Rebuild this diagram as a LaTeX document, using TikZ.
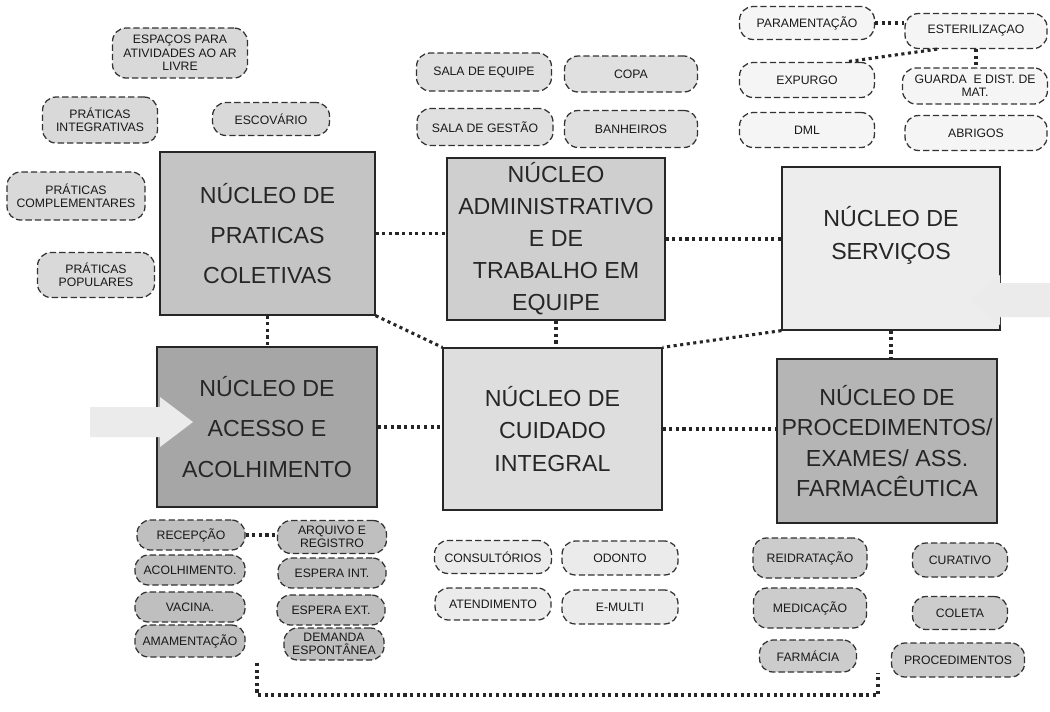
\documentclass[tikz,border=0pt]{standalone}
\usepackage{fontspec}
\setmainfont{Liberation Sans}
\newcommand{\pxu}{0.025cm}
\colorlet{fColet}{black!23}
\colorlet{fAdmin}{black!19}
\colorlet{fServ}{black!7}
\colorlet{fAcesso}{black!35}
\colorlet{fCuid}{black!13}
\colorlet{fProc}{black!29}

\begin{document}
\begin{tikzpicture}[x=0.025cm,y=-0.025cm,
    nucleo/.style 2 args={draw=black!85,line width=0.9pt,align=center,inner sep=2pt,
      text=black!85,minimum width=#1*\pxu,minimum height=#2*\pxu,
      font=\fontsize{16.5}{23}\selectfont},
    pill/.style 2 args={draw=black!80,line width=0.9pt,dash pattern=on 4.5pt off 2.2pt,
      rounded corners=0.34cm,align=center,inner sep=1pt,text=black!90,
      minimum width=#1*\pxu,minimum height=#2*\pxu,
      font=\fontsize{8.7}{9.5}\selectfont},
    link/.style={line width=2.2pt,dash pattern=on 2.2pt off 2.5pt,black!85},
    seta/.style={fill=black!8,draw=none}]
  \useasboundingbox (0,0) rectangle (1050,711);

  % nucleos
  \node[nucleo={215}{163},fill=fColet,font=\fontsize{16.5}{28.5}\selectfont]
    (colet) at (267.5,233.5) {NÚCLEO DE\\PRATICAS\\COLETIVAS};
  \node[nucleo={218}{162},fill=fAdmin,font=\fontsize{16.5}{22.8}\selectfont]
    (admin) at (556,239) {NÚCLEO\\ADMINISTRATIVO\\E DE\\TRABALHO EM\\EQUIPE};
  \node[nucleo={218}{163},fill=fServ,text depth=22pt]
    (serv) at (891,248.5) {NÚCLEO DE\\SERVIÇOS};
  \node[nucleo={220}{160},fill=fAcesso,font=\fontsize{16.5}{28.5}\selectfont]
    (acesso) at (267,427) {NÚCLEO DE\\ACESSO E\\ACOLHIMENTO};
  \node[nucleo={219}{162},fill=fCuid]
    (cuid) at (552.5,429) {NÚCLEO DE\\CUIDADO\\INTEGRAL};
  \node[nucleo={220}{164},fill=fProc,font=\fontsize{16.5}{21.5}\selectfont]
    (proc) at (887,441) {NÚCLEO DE\\PROCEDIMENTOS/\\EXAMES/ ASS.\\FARMACÊUTICA};

  % setas de entrada
  \fill[seta] (90,407) -- (160,407) -- (160,397) -- (193,422) -- (160,447)
    -- (160,437) -- (90,437) -- cycle;
  \fill[seta] (1050,283) -- (1000,283) -- (1000,275) -- (970,300) -- (1000,325)
    -- (1000,317) -- (1050,317) -- cycle;

  % ligacoes entre nucleos
  \draw[link] (colet.east) -- (colet.east -| admin.west);
  \draw[link] (admin.east) -- (admin.east -| serv.west);
  \draw[link] (colet.south) -- (colet.south |- acesso.north);
  \draw[link] (admin.south) -- (admin.south |- cuid.north);
  \draw[link] (serv.south) -- (serv.south |- proc.north);
  \draw[link] (acesso.east) -- (acesso.east -| cuid.west);
  \draw[link] (cuid.east) -- (cuid.east -| proc.west);
  \draw[link] (colet.south east) -- (cuid.north west);
  \draw[link] (serv.south west) -- (cuid.north east);

  % praticas coletivas
  \node[pill={135}{50},fill=black!15] (arlivre) at (180,53)
    {ESPAÇOS PARA\\ATIVIDADES AO AR\\LIVRE};
  \node[pill={115}{46},fill=black!15] (integr) at (100,120) {PRÁTICAS\\INTEGRATIVAS};
  \node[pill={117}{33},fill=black!15] (escov) at (271,119) {ESCOVÁRIO};
  \node[pill={138}{48},fill=black!15] (compl) at (76,196) {PRÁTICAS\\COMPLEMENTARES};
  \node[pill={117}{45},fill=black!15] (popul) at (96,275) {PRÁTICAS\\POPULARES};

  % administrativo
  \node[pill={135}{38},fill=black!12] (sequipe) at (484,72) {SALA DE EQUIPE};
  \node[pill={133}{36},fill=black!12] (copa) at (631,74) {COPA};
  \node[pill={136}{37},fill=black!12] (sgestao) at (485,127) {SALA DE GESTÃO};
  \node[pill={133}{37},fill=black!12] (banh) at (631,129) {BANHEIROS};

  % servicos
  \node[pill={135}{33},fill=black!4] (param) at (807,23) {PARAMENTAÇÃO};
  \node[pill={142}{35},fill=black!4] (ester) at (976,31) {ESTERILIZAÇAO};
  \node[pill={135}{35},fill=black!4] (expurgo) at (807,80) {EXPURGO};
  \node[pill={145}{36},fill=black!4] (guarda) at (975,86) {GUARDA\ \ E DIST. DE\\MAT.};
  \node[pill={135}{35},fill=black!4] (dml) at (807,130) {DML};
  \node[pill={142}{35},fill=black!4] (abrigos) at (976,133) {ABRIGOS};
  \draw[link] (param.east) -- (param.east -| ester.west);
  \draw[link] (ester.205) -- (expurgo.25);
  \draw[link] (ester.south) -- (ester.south |- guarda.north);

  % acesso e acolhimento
  \node[pill={108}{30},fill=black!25] (recep) at (191,535) {RECEPÇÃO};
  \node[pill={110}{30},fill=black!25] (acolh) at (190,570) {ACOLHIMENTO.};
  \node[pill={110}{30},fill=black!25] (vacina) at (190,607) {VACINA.};
  \node[pill={110}{32},fill=black!25] (amam) at (190,641) {AMAMENTAÇÃO};
  \node[pill={109}{33},fill=black!25] (arquivo) at (332,537) {ARQUIVO E\\REGISTRO};
  \node[pill={108}{30},fill=black!25] (espint) at (332,573) {ESPERA INT.};
  \node[pill={108}{30},fill=black!25] (espext) at (331,610) {ESPERA EXT.};
  \node[pill={100}{32},fill=black!25] (demanda) at (334,644) {DEMANDA\\ESPONTÂNEA};
  \draw[link] (recep.east) -- (recep.east -| arquivo.west);

  % cuidado integral
  \node[pill={117}{33},fill=black!8] (consult) at (493,557) {CONSULTÓRIOS};
  \node[pill={116}{34},fill=black!8] (odonto) at (620,558) {ODONTO};
  \node[pill={116}{32},fill=black!8] (atend) at (493,604) {ATENDIMENTO};
  \node[pill={116}{34},fill=black!8] (emulti) at (620,607) {E-MULTI};

  % procedimentos
  \node[pill={114}{40},fill=black!20] (reidr) at (810,558) {REIDRATAÇÃO};
  \node[pill={95}{34},fill=black!20] (curat) at (960,560) {CURATIVO};
  \node[pill={113}{40},fill=black!20] (medic) at (810,608) {MEDICAÇÃO};
  \node[pill={95}{33},fill=black!20] (coleta) at (960,613) {COLETA};
  \node[pill={97}{32},fill=black!20] (farm) at (808,656) {FARMÁCIA};
  \node[pill={133}{34},fill=black!20] (proced) at (958,660) {PROCEDIMENTOS};

  % ligacao inferior
  \coordinate (grpA) at (257,663);
  \coordinate (grpB) at (878,673);
  \draw[link] (grpA) -- ++(0,32) -| (grpB);
\end{tikzpicture}
\end{document}
